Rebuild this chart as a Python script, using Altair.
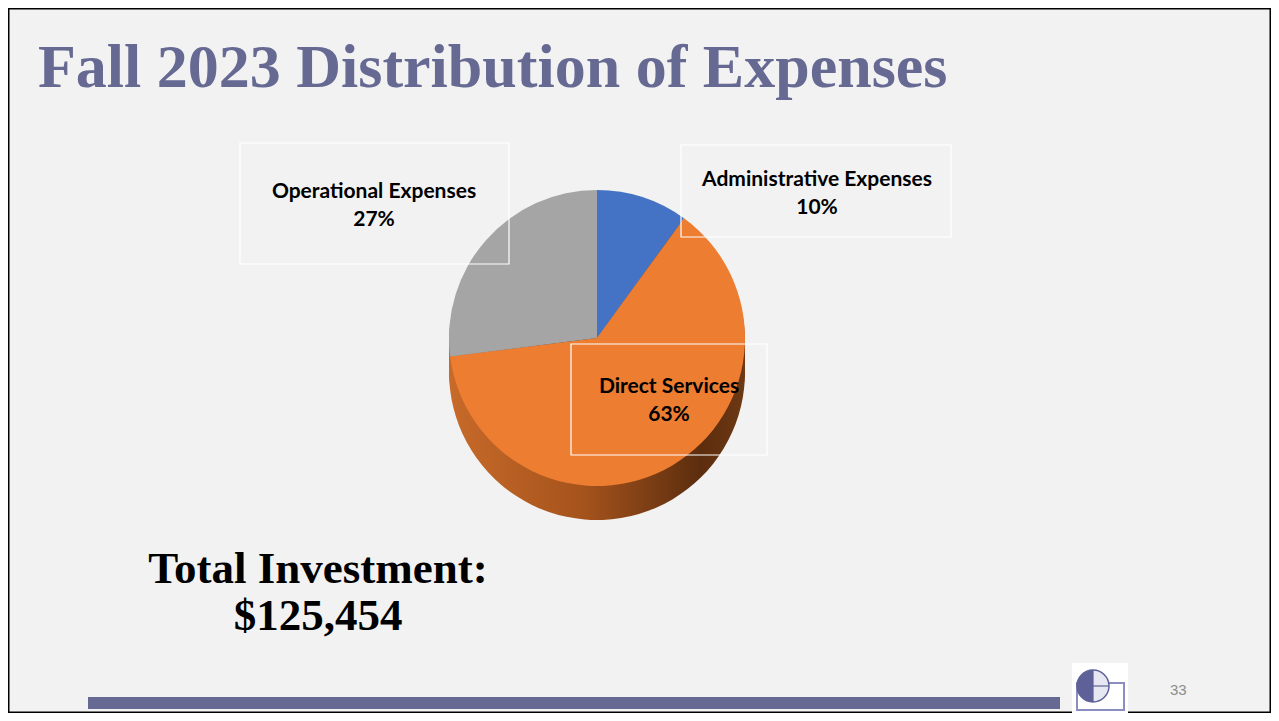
import altair as alt
import pandas as pd

# ---- data ----
categories = ["Administrative Expenses", "Direct Services", "Operational Expenses"]
shares = [10, 63, 27]
slice_order = [1, 2, 3]
top_colors = ["#4472C4", "#ED7D31", "#A5A5A5"]
title_text = "Fall 2023 Distribution of Expenses"
total_lines = ["Total Investment:", "$125,454"]
page_number = "33"

# ---- layout (chart pixel coords) ----
W, H = 1263, 705
CX, CY, R = 589, 330, 148
DEPTH = 34
label_x = [809, 661, 366]
label_y = [172, 379, 184]
box_x = [673, 563, 232]
box_x2 = [943, 759, 501]
box_y = [137, 336, 135]
box_y2 = [229, 447, 256]

pie = pd.DataFrame({"category": categories, "share": shares, "order": slice_order})
labels = pd.DataFrame({
    "text": [f"{c}\n{s}%" for c, s in zip(categories, shares)],
    "lx": label_x, "ly": label_y,
    "bx": box_x, "bx2": box_x2, "by": box_y, "by2": box_y2,
})
one = pd.DataFrame({"k": [0]})

color_scale = alt.Scale(domain=categories, range=top_colors)

side_gradient = {
    "gradient": "linear", "x1": 0, "x2": 1, "y1": 0, "y2": 0,
    "stops": [
        {"offset": 0, "color": "#C76A2A"},
        {"offset": 0.45, "color": "#A5531C"},
        {"offset": 0.85, "color": "#5C2D0E"},
        {"offset": 1, "color": "#6E3813"},
    ],
}

base_arc = alt.Chart(pie).encode(
    theta=alt.Theta("share:Q", stack=True),
    order=alt.Order("order:Q"),
    x=alt.value(CX),
)

side_layers = []
for off in range(DEPTH, 0, -5):
    side_layers.append(
        base_arc.mark_arc(radius=R, fill=side_gradient).encode(
            y=alt.value(CY + off)
        )
    )

top = base_arc.mark_arc(radius=R).encode(
    y=alt.value(CY),
    color=alt.Color("category:N", scale=color_scale, legend=None),
)

boxes = alt.Chart(labels).mark_rect(fill=None, stroke="white", strokeWidth=1.2).encode(
    x=alt.X("bx:Q", scale=None), x2="bx2:Q",
    y=alt.Y("by:Q", scale=None), y2="by2:Q",
)

label_text = alt.Chart(labels).mark_text(
    font="Lato", fontWeight="bold", fontSize=21, color="#000000",
    lineBreak="\n", lineHeight=28, align="center", baseline="middle",
).encode(
    x=alt.X("lx:Q", scale=None), y=alt.Y("ly:Q", scale=None), text="text:N"
)

title = alt.Chart(one).mark_text(
    text=title_text, font="Liberation Serif", fontWeight="bold", fontSize=62,
    color="#666A93", align="left", baseline="alphabetic",
).encode(x=alt.value(30), y=alt.value(79))

total = alt.Chart(one).mark_text(
    text=total_lines, font="Liberation Serif", fontWeight="bold", fontSize=45,
    color="#000000", align="center", baseline="middle", lineHeight=47,
).encode(x=alt.value(310), y=alt.value(561))

bar = alt.Chart(one).mark_rect(color="#666A93").encode(
    x=alt.value(80), x2=alt.value(1052), y=alt.value(689), y2=alt.value(701)
)

# small logo: globe over an open book on a white tile
logo_bg = alt.Chart(one).mark_rect(color="white").encode(
    x=alt.value(1064), x2=alt.value(1120), y=alt.value(655), y2=alt.value(705)
)
logo_book = alt.Chart(one).mark_rect(fill=None, stroke="#8A8DC0", strokeWidth=2).encode(
    x=alt.value(1069), x2=alt.value(1116), y=alt.value(675), y2=alt.value(702)
)
logo_globe_fill = alt.Chart(one).mark_arc(
    radius=16, fill="#E6E7F3", stroke="#5E6198", strokeWidth=1.5
).encode(x=alt.value(1085), y=alt.value(678), theta=alt.value(0), theta2=alt.value(6.2832))
logo_globe_half = alt.Chart(one).mark_arc(radius=16, fill="#5E6198").encode(
    x=alt.value(1085), y=alt.value(678), theta=alt.value(3.1416), theta2=alt.value(6.2832)
)
logo_meridian = alt.Chart(one).mark_rule(color="#5E6198", strokeWidth=1.2).encode(
    x=alt.value(1085), y=alt.value(662), y2=alt.value(694)
)
logo_equator = alt.Chart(one).mark_rule(color="#5E6198", strokeWidth=1.2).encode(
    x=alt.value(1069), x2=alt.value(1101), y=alt.value(678)
)

page = alt.Chart(one).mark_text(
    text=page_number, font="Liberation Sans", fontSize=15, color="#8C8C8C",
    align="left", baseline="middle",
).encode(x=alt.value(1162), y=alt.value(682))

chart = alt.layer(
    *side_layers, top, boxes, label_text, title, total, bar,
    logo_bg, logo_book, logo_globe_fill, logo_globe_half, logo_meridian,
    logo_equator, page,
).properties(
    width=W, height=H, padding=0, background="#F2F2F2",
).configure_view(stroke="#000000", strokeWidth=3)

chart.save("out.html", embed_options={"renderer": "svg", "actions": False})
